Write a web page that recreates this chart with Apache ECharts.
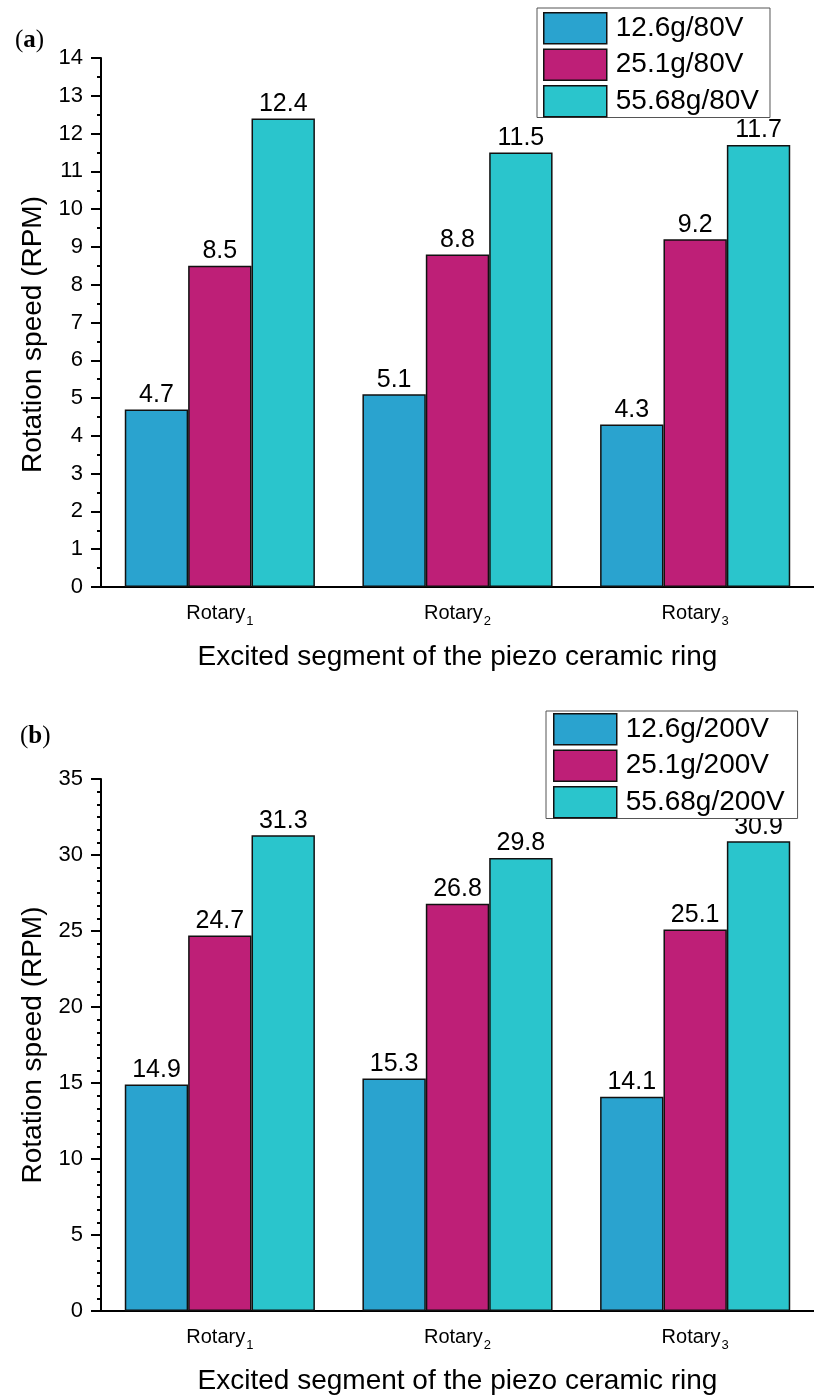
<!DOCTYPE html>
<html>
<head>
<meta charset="utf-8">
<script src="https://cdn.jsdelivr.net/npm/echarts@6/dist/echarts.min.js"></script>
<style>
html,body{margin:0;padding:0;background:#fff;}
#c{width:814px;height:1396px;}
</style>
</head>
<body>
<div id="c"></div>
<script>
// ---- data ----
const categories = ['Rotary1', 'Rotary2', 'Rotary3'];
const namesA = ['12.6g/80V', '25.1g/80V', '55.68g/80V'];
const valuesA1 = [4.7, 5.1, 4.3];
const valuesA2 = [8.5, 8.8, 9.2];
const valuesA3 = [12.4, 11.5, 11.7];
const namesB = ['12.6g/200V', '25.1g/200V', '55.68g/200V'];
const valuesB1 = [14.9, 15.3, 14.1];
const valuesB2 = [24.7, 26.8, 25.1];
const valuesB3 = [31.3, 29.8, 30.9];
const yTicksA = { min: 0, max: 14, interval: 1 };
const yTicksB = { min: 0, max: 35, interval: 5 };
const xTitle = 'Excited segment of the piezo ceramic ring';
const yTitle = 'Rotation speed (RPM)';

// ---- styling ----
const colors = ['#2AA3CF', '#BE1F77', '#2AC5CC'];
const FONT = '"Liberation Sans", Arial, Helvetica, sans-serif';
const black = '#000';

const chart = echarts.init(document.getElementById('c'), null, { renderer: 'canvas' });

function catLabel(v) {
  return '{r|' + v.slice(0, -1) + '}{sub|' + v.slice(-1) + '}';
}

function xAxes(gridIndex) {
  return [
    {
      type: 'category', gridIndex, data: categories,
      axisLine: { lineStyle: { color: black, width: 2 } },
      axisTick: { alignWithLabel: true, length: 11, lineStyle: { color: black, width: 2 } },
      axisLabel: {
        margin: 16, color: black, formatter: catLabel,
        rich: {
          r: { fontFamily: FONT, fontSize: 20, color: black, lineHeight: 20, verticalAlign: 'top' },
          sub: { fontFamily: FONT, fontSize: 13, color: black, lineHeight: 13, padding: [12, 0, 0, 1], verticalAlign: 'top' }
        }
      },
      name: xTitle, nameLocation: 'middle', nameGap: 56,
      nameTextStyle: { fontFamily: FONT, fontSize: 28, color: black, lineHeight: 28 }
    },
    {
      type: 'category', gridIndex, data: categories,
      axisLine: { show: false },
      axisTick: { length: 6, lineStyle: { color: black, width: 2 } },
      axisLabel: { show: false }
    }
  ];
}

function yAxis(gridIndex, t, minorSplit, namePad) {
  return {
    type: 'value', gridIndex, min: t.min, max: t.max, interval: t.interval,
    axisLine: { show: true, lineStyle: { color: black, width: 2 } },
    axisTick: { show: true, length: 10, lineStyle: { color: black, width: 2 } },
    minorTick: { show: true, splitNumber: minorSplit, length: 4, lineStyle: { color: black, width: 2 } },
    splitLine: { show: false },
    axisLabel: { margin: 18, color: black, fontFamily: FONT, fontSize: 22 },
    name: yTitle, nameLocation: 'middle', nameGap: 50,
    nameTextStyle: { fontFamily: FONT, fontSize: 28, color: black, lineHeight: 28, padding: namePad }
  };
}

function barSeries(name, data, idx, xIdx, yIdx) {
  return {
    type: 'bar', name, data, xAxisIndex: xIdx, yAxisIndex: yIdx,
    barGap: '0%', barCategoryGap: '20%',
    itemStyle: { color: colors[idx], borderColor: '#111', borderWidth: 1.5 },
    label: {
      show: true, position: 'top', distance: 2, color: black,
      fontFamily: FONT, fontSize: 25,
      formatter: p => p.value.toFixed(1)
    },
    emphasis: { disabled: true },
    animation: false
  };
}

function legend(data, left, top, padding) {
  return {
    data, left, top, orient: 'vertical', icon: 'rect',
    itemWidth: 63, itemHeight: 31, itemGap: 4, padding,
    borderColor: '#555', borderWidth: 1, backgroundColor: '#fff',
    itemStyle: { borderColor: '#111', borderWidth: 1.5 },
    textStyle: { fontFamily: FONT, fontSize: 28, color: black, lineHeight: 31, padding: [0, 0, 0, 4] },
    selectedMode: false
  };
}

const option = {
  animation: false,
  backgroundColor: '#fff',
  grid: [
    { left: 101, top: 58, width: 720, height: 529 },
    { left: 101, top: 779, width: 720, height: 532 }
  ],
  xAxis: [...xAxes(0), ...xAxes(1)],
  yAxis: [yAxis(0, yTicksA, 2, [0, 24, 0, 0]), yAxis(1, yTicksB, 6, [0, 0, 0, 0])],
  legend: [
    legend(namesA, 537, 8, [4, 11, 0, 6]),
    legend(namesB, 546, 711, [2, 13, 0, 7])
  ],
  series: [
    barSeries(namesA[0], valuesA1, 0, 0, 0),
    barSeries(namesA[1], valuesA2, 1, 0, 0),
    barSeries(namesA[2], valuesA3, 2, 0, 0),
    barSeries(namesB[0], valuesB1, 0, 2, 1),
    barSeries(namesB[1], valuesB2, 1, 2, 1),
    barSeries(namesB[2], valuesB3, 2, 2, 1)
  ],
  graphic: [
    {
      type: 'text', left: 15, top: 28,
      style: { text: '({b|a})', fontFamily: '"Liberation Serif", "Times New Roman", serif', fontSize: 25, fill: black,
        rich: { b: { fontFamily: '"Liberation Serif", "Times New Roman", serif', fontSize: 25, fontWeight: 'bold', fill: black } } }
    },
    {
      type: 'text', left: 20, top: 724,
      style: { text: '({b|b})', fontFamily: '"Liberation Serif", "Times New Roman", serif', fontSize: 25, fill: black,
        rich: { b: { fontFamily: '"Liberation Serif", "Times New Roman", serif', fontSize: 25, fontWeight: 'bold', fill: black } } }
    }
  ]
};
chart.setOption(option);
</script>
</body>
</html>
